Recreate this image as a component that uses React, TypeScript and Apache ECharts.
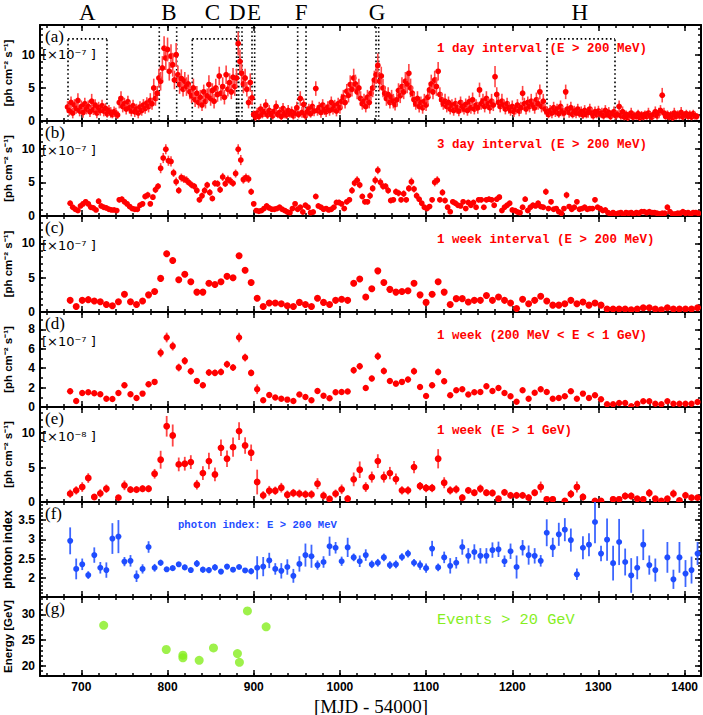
import React, { useEffect, useRef } from "react";
import * as echarts from "echarts";

const X_MIN = 652;
const X_MAX = 1419;

// (a) 1-day binned flux (E > 200 MeV), read every 2nd day, units 1e-7
const A_START = 684, A_STEP = 2;
const aFlux = [
  2.1,1.6,2.8,1.2,2.4,1.9,3.1,1.5,2.2,1.3, 2.6,1.8,2.2,1.4,3.0,1.7,2.4,1.2,2.0,1.6,
  2.3,1.5,1.9,1.1,1.6,1.3,1.0,1.4,1.2,0.9, 2.8,3.4,2.2,2.6,1.8,2.9,2.0,1.5,2.3,1.4,
  1.8,1.2,2.1,1.6,2.4,1.9,2.7,2.2,3.1,2.6, 5.0,3.4,4.2,6.5,6.0,8.0,11.0,9.5,10.8,7.5,
  9.8,8.5,6.2,10.0,7.0,5.5,6.4,4.8,6.0,5.2, 5.6,4.4,3.8,5.0,3.2,4.2,2.8,3.6,2.4,4.4,
  3.0,3.8,5.5,3.4,4.6,3.0,5.0,4.0,6.8,4.2, 5.2,3.6,7.0,4.8,5.8,4.4,6.6,5.2,6.5,11.7,
  9.0,7.2,5.6,6.5,4.8,2.8,5.8,3.5,1.0,0.6, 1.2,0.7,1.8,1.0,1.4,2.4,0.9,1.6,1.1,0.8,
  1.5,2.2,1.0,1.3,0.7,1.9,1.2,0.9,1.6,1.1, 1.4,0.8,1.2,2.0,1.0,3.4,1.3,2.5,0.8,1.4,
  1.8,1.1,2.2,1.5,4.9,1.6,2.0,1.3,2.4,1.7, 1.4,2.1,1.6,2.8,1.8,2.3,1.5,2.6,2.0,3.0,
  3.6,2.8,4.5,3.9,5.5,4.8,6.5,5.6,4.4,5.0, 3.4,2.6,3.0,2.2,3.6,2.8,4.2,5.0,6.2,7.0,
  8.4,6.0,6.8,5.0,4.2,3.4,4.0,2.8,3.6,3.0, 2.5,3.2,4.6,3.8,5.2,4.4,6.0,5.6,7.2,5.0,
  4.2,3.2,2.6,3.4,2.2,2.8,2.0,3.0,2.4,3.6, 4.7,5.6,4.4,6.2,5.2,7.5,4.0,3.2,2.6,3.0,
  2.2,2.8,1.8,2.4,1.6,2.6,2.0,1.5,2.8,2.2, 1.8,2.5,1.6,2.9,2.0,3.2,1.8,2.4,2.0,4.7,
  2.6,3.0,2.2,3.4,2.6,2.0,3.0,2.4,6.7,4.0, 2.8,2.2,3.0,2.4,1.8,2.6,2.0,1.6,2.2,1.4,
  1.8,2.4,1.5,2.0,4.2,2.6,1.8,2.8,2.2,3.0, 2.4,2.0,3.2,2.6,4.4,2.2,3.0,1.8,1.4,1.0,
  1.6,1.2,2.0,1.4,1.8,1.1,2.2,1.5,1.2,4.4, 1.8,1.3,2.0,1.0,1.5,1.2,1.8,1.1,1.4,0.9,
  1.6,1.0,1.3,1.8,1.2,0.8,1.4,1.0,1.5,1.1, 1.2,0.8,1.6,1.0,1.3,0.7,1.1,1.4,0.8,1.0,
  2.2,0.8,1.4,0.6,1.0,0.5,0.9,1.2,0.6,0.8, 0.7,1.1,0.5,0.9,0.6,1.0,0.7,1.2,0.8,0.6,
  1.0,1.4,0.8,1.2,1.6,3.9,1.2,0.7,1.0,0.6, 0.9,0.5,1.2,0.7,1.0,0.8,1.3,0.6,0.9,1.1,
  0.7,1.0,0.6,1.1,0.8,0.7,
];
const aErr = [
  .9,.8,.9,.8,.9,.8,1.1,.8,.9,.8, .9,.8,.9,.8,1.1,.8,.9,.8,.9,.8,
  .9,.8,.8,.6,.8,.8,.6,.8,.8,.6, .9,1.1,.9,.9,.8,.9,.9,.8,.9,.8,
  .8,.8,.9,.8,.9,.8,.9,.9,1.1,.9, 1.4,1.1,1.1,1.4,1.4,1.8,1.8,1.8,1.8,1.4,
  1.8,1.8,1.4,1.8,1.4,1.4,1.4,1.1,1.4,1.4, 1.4,1.1,1.1,1.4,1.1,1.1,.9,1.1,.9,1.1,
  1.1,1.1,1.4,1.1,1.1,1.1,1.4,1.1,1.4,1.1, 1.4,1.1,1.4,1.1,1.4,1.1,1.4,1.4,1.4,1.8,
  1.8,1.4,1.4,1.4,1.1,.9,1.4,1.1,.6,.6, .8,.6,.8,.6,.8,.9,.6,.8,.6,.6,
  .8,.9,.6,.8,.6,.8,.8,.6,.8,.6, .8,.6,.8,.9,.6,1.1,.8,.9,.6,.8,
  .8,.6,.9,.8,1.1,.8,.9,.8,.9,.8, .8,.9,.8,.9,.8,.9,.8,.9,.9,1.1,
  1.1,.9,1.1,1.1,1.4,1.1,1.4,1.4,1.1,1.4, 1.1,.9,1.1,.9,1.1,.9,1.1,1.4,1.4,1.4,
  1.8,1.4,1.4,1.4,1.1,1.1,1.1,.9,1.1,1.1, .9,1.1,1.1,1.1,1.4,1.1,1.4,1.4,1.4,1.4,
  1.1,1.1,.9,1.1,.9,.9,.9,1.1,.9,1.1, 1.1,1.4,1.1,1.4,1.4,1.4,1.1,1.1,.9,1.1,
  .9,.9,.8,.9,.8,.9,.9,.8,.9,.9, .8,.9,.8,.9,.9,1.1,.8,.9,.9,1.1,
  .9,1.1,.9,1.1,.9,.9,1.1,.9,1.6,1.1, .9,.9,1.1,.9,.8,.9,.9,.8,.9,.8,
  .8,.9,.8,.9,1.1,.9,.8,.9,.9,1.1, .9,.9,1.1,.9,1.1,.9,1.1,.8,.8,.6,
  .8,.8,.9,.8,.8,.6,.9,.8,.8,1.1, .8,.8,.9,.6,.8,.8,.8,.6,.8,.6,
  .8,.6,.8,.8,.8,.6,.8,.6,.8,.6, .8,.6,.8,.6,.8,.6,.6,.8,.6,.6,
  .9,.6,.8,.5,.6,.5,.6,.8,.5,.6, .5,.6,.5,.6,.5,.6,.5,.8,.6,.5,
  .6,.8,.6,.8,.8,1.1,.8,.5,.6,.5, .6,.5,.8,.5,.6,.6,.8,.5,.6,.6,
  .5,.6,.5,.6,.6,.5,
];

// (b) 3-day binned flux
const B_START = 687, B_STEP = 3;
const bFlux = [
  1.9,1.3,1.0,0.8,1.5,1.8,2.1,1.8,1.3,1.2,
  0.9,2.2,1.5,1.3,1.2,1.0,0.9,0.9,0.8,2.4,2.5,2.1,1.8,1.4,1.1, 1.0,
  1.0,1.6,1.8,2.9,3.1,1.8,2.8,3.9,4.4,7.1,8.6,9.9,8.2,8.1,6.4,5.1,3.8,5.7,5.5,5.3,4.95,4.6,4.4,3.8,2.4,3.0,
  3.8,4.6,3.5,2.6,4.85,4.8,3.9,5.8,4.8,5.4,5.2,4.85,6.3,9.9,8.3,5.4,5.7,5.5,3.6,1.8,0.8,0.7,0.8,1.1,1.5,1.2,1.0,1.0,1.1,1.3,1.0,0.8,0.6,0.5,1.1,1.8,
  1.0,
  1.3,0.6,1.6,1.3,0.5,0.6,2.9,1.5,1.3,1.0,1.1,0.9,1.0,1.3,2.0,2.0,1.8,1.1,2.1,2.4,3.8,4.9,5.3,
  4.6,2.9,2.1,2.1,3.0,4.1,5.3,6.8,5.0,4.4, 4.4,3.8,2.3,2.4,3.6,3.4,2.4,3.3,2.4,4.1,
  5.1,4.0,3.0,2.5,1.9,1.3,1.1,1.4,2.4,5.0, 5.3,2.4,3.5,2.3,1.3,0.64,2.1,1.9,1.6,1.5,
  2.1,1.1,2.0,1.6,2.0,1.3,2.4,2.4,1.3,2.4, 2.5,2.4,1.6,2.5,2.8,0.8,1.3,1.6,1.9,0.9,
  0.8,0.6,0.5,1.3,2.5,0.8,1.3,1.6,1.5,1.9, 1.4,1.3,3.6,1.1,2.1,1.0,1.1,0.64,
  0.4,1.1,3.1,1.4,1.0,1.3,2.1,1.0,1.1,1.3, 1.0,1.1,1.1,2.4,1.3,1.1,0.8,0.9,0.5,0.3,
  0.5,0.3,0.4,0.5,0.15,0.5,0.4,0.5,0.3, 0.5,0.4,0.64,0.64,0.5,0.64,0.5,0.5,0.4,0.3,
  0.4,0.4,1.3,0.64,0.3,0.3,0.4,0.4,0.64,0.4,0.5,0.3,0.5,0.5,0.4,
];
const bErr = [
  .35,.35,.3,.3,.35,.35,.4,.35,.35,.35,
  .3,.4,.35,.35,.35,.3,.3,.3,.3,.4,.4,.4,.35,.35,.3, .3,
  .3,.35,.35,.4,.5,.35,.4,.5,.5,.75,.75,.75,.75,.75,.6,.6,.5,.6,.6,.6,.5,.5,.5,.5,.4,.5,
  .5,.5,.5,.4,.5,.5,.5,.6,.5,.6,.6,.5,.6,.75,.75,.6,.6,.6,.5,.35,.3,.3,.3,.3,.35,.35,.3,.3,.3,.35,.3,.3,.3,.3,.3,.35,
  .3,
  .35,.3,.35,.35,.3,.3,.4,.35,.35,.3,.3,.3,.3,.35,.4,.4,.35,.3,.4,.4,.5,.5,.6,
  .5,.4,.4,.4,.5,.5,.6,.6,.6,.5, .5,.5,.4,.4,.5,.5,.4,.5,.4,.5,
  .6,.5,.5,.4,.35,.35,.3,.35,.4,.6, .6,.4,.5,.4,.35,.3,.4,.35,.35,.35,
  .4,.3,.4,.35,.4,.35,.4,.4,.35,.4, .4,.4,.35,.4,.4,.3,.35,.35,.35,.3,
  .3,.3,.3,.35,.4,.3,.35,.35,.35,.35, .35,.35,.5,.3,.4,.3,.3,.3,
  .3,.3,.5,.35,.3,.35,.4,.3,.3,.35, .3,.3,.3,.4,.35,.3,.3,.3,.25,.25,
  .25,.25,.25,.25,.25,.25,.25,.25,.25, .25,.25,.25,.25,.25,.25,.25,.25,.25,.25,
  .25,.25,.35,.25,.25,.25,.25,.25,.25,.25,.25,.25,.25,.25,.25,
];

// weekly bins
const W_START = 687, W_STEP = 7;
const cFlux = [
  1.7,0.8,1.7,1.8,1.6,1.5,1.1,0.9,1.5,2.6,1.5,1.1,1.6,2.5,3.0,4.9,8.5,7.5,4.7,5.5,
  4.4,2.9,2.9,4.2,4.0,4.4,5.2,5.0,8.2,6.1,4.3,2.0,0.8,1.3,1.3,1.2,0.9,0.8,1.4,1.1,
  0.8,2.0,1.4,1.1,1.7,1.85,1.7,4.2,4.8,
  2.2,3.4,6.0,4.3,3.3,2.9,3.0,3.1,4.2,2.5,1.4,2.6,4.4,2.9,1.1,1.95,1.95,1.46,1.7,1.7,
  2.4,1.7,2.2,1.7,1.3,0.5,1.85,1.2,1.7,2.3,1.6,1.0,1.0,1.2,1.7,1.2,1.46,1.0,1.3,1.0,
  0.44,0.44,0.44,0.44,0.34,0.44,0.63,0.63,0.44,0.34,0.63,0.44,0.44,0.44,0.44,0.63,
];
const cErr = [
  .25,.25,.25,.25,.25,.25,.25,.25,.25,.3,.25,.25,.25,.3,.3,.35,.45,.45,.35,.35,
  .35,.3,.3,.35,.35,.35,.35,.35,.45,.4,.35,.25,.2,.25,.25,.25,.2,.2,.25,.25,
  .2,.25,.25,.25,.25,.25,.25,.35,.35,
  .3,.3,.4,.35,.3,.3,.3,.3,.35,.3,.25,.3,.35,.3,.25,.25,.25,.25,.25,.25,
  .3,.25,.3,.25,.25,.2,.25,.25,.25,.3,.25,.2,.2,.25,.25,.25,.25,.2,.25,.2,
  .15,.15,.15,.15,.15,.15,.15,.15,.15,.15,.15,.15,.15,.15,.15,.15,
];
const dFlux = [
  1.62,0.62,1.45,1.52,1.41,1.31,0.86,0.83,1.45,2.24,1.31,0.93,1.38,2.34,2.59,5.59,7.17,6.28,4.07,4.76,
  3.69,2.69,2.24,3.55,3.52,3.62,4.41,4.07,7.17,5.1,3.52,1.83,0.69,1.24,0.97,0.86,0.76,0.62,1.28,1.03,
  0.69,1.66,1.17,0.9,1.52,1.55,1.59,3.79,4.2,
  1.97,2.93,5.24,3.72,2.69,2.41,2.59,2.83,3.69,2.07,1.14,2.24,3.62,2.66,1.21,1.72,1.83,1.28,1.52,1.55,
  2.14,1.66,1.97,1.45,1.1,0.55,1.72,0.86,1.48,1.83,1.55,0.86,0.93,1.1,1.62,0.86,1.38,0.93,1.21,0.79,
  0.28,0.28,0.41,0.41,0.07,0.34,0.59,0.59,0.34,0.28,0.59,0.34,0.34,0.34,0.34,0.52,
];
const dErr = [
  .3,.25,.25,.25,.25,.25,.2,.2,.3,.3,.25,.25,.25,.3,.3,.45,.5,.45,.4,.4,
  .35,.3,.3,.35,.35,.35,.35,.35,.5,.4,.35,.5,.2,.25,.2,.2,.2,.2,.25,.25,
  .2,.25,.25,.2,.25,.25,.25,.35,.35,
  .3,.3,.4,.35,.3,.3,.3,.3,.35,.3,.25,.3,.35,.3,.25,.25,.25,.25,.25,.25,
  .3,.25,.3,.25,.25,.2,.25,.2,.25,.3,.25,.2,.2,.25,.25,.2,.25,.2,.25,.2,
  .15,.15,.15,.15,.15,.15,.15,.15,.15,.15,.15,.15,.15,.15,.15,.15,
];
// (e) weekly, E > 1 GeV, units 1e-8
const eFlux = [
  1.21,1.69,2.17,3.48,0.72,1.26,1.93,null,0.63,2.42,1.79,1.79,1.93,1.93,4.1,6.14,11.0,9.66,5.46,5.56,
  5.8,2.51,4.2,5.94,4.0,7.87,6.28,7.97,10.3,8.2,7.15,2.9,0.97,1.64,1.64,2.08,1.06,1.3,1.21,1.1,
  1.1,2.66,0.92,0.43,1.21,1.84,0.48,3.29,4.69,
  2.17,3.62,5.94,3.62,4.2,3.33,1.69,1.69,5.07,2.32,2.03,2.03,6.28,2.8,1.69,1.84,0.63,1.69,1.35,1.93,
  1.35,1.3,0.48,1.4,0.97,0.97,0.97,0.63,1.35,2.17,0.39,0.39,null,0.14,1.16,2.17,0.72,null,0.14,0.14,
  null,0.39,0.39,0.87,0.87,0.48,0.39,1.3,0.48,0.14,0.48,1.21,0.24,0.97,0.63,0.63,
];
const eErr = [
  .6,.6,.7,.7,.4,.6,.6,0,.4,.7,.5,.5,.5,.5,.7,1.3,1.5,1.6,1.0,1.0,
  1.0,.7,1.0,1.2,1.0,1.2,1.2,1.4,1.3,1.2,1.2,1.8,.6,.7,.6,.7,.6,.6,.6,.6,
  .6,.8,.6,.5,.6,.7,.5,1.0,1.2,
  .7,.8,1.0,.8,.9,.8,.6,.6,.9,.6,.6,.6,1.4,.8,.6,.6,.5,.5,.5,.6,
  .5,.5,.4,.5,.5,.5,.5,.5,.5,.8,.4,.4,0,.4,.6,.8,.5,0,.4,.4,
  0,.4,.4,.5,.5,.4,.4,.6,.4,.3,.4,.6,.3,.5,.4,.4,
];
// (f) weekly photon index
const fIndex = [
  2.96,2.23,2.35,2.07,2.59,2.26,2.2,3.02,3.07,2.42,2.44,2.04,2.23,2.8,2.26,2.39,2.22,2.25,2.35,2.27,
  2.2,2.37,2.21,2.2,2.27,2.16,2.29,2.21,2.28,2.19,2.17,2.26,2.29,2.45,2.23,2.18,2.28,2.05,2.36,2.59,
  2.56,2.33,2.41,2.82,2.78,2.43,2.79,2.53,2.43,
  2.59,2.35,2.39,2.53,2.33,2.35,2.54,2.63,2.39,2.33,2.25,2.76,2.27,2.53,2.31,2.39,2.8,2.57,2.67,2.57,
  2.57,2.72,2.74,2.43,2.69,2.28,2.78,2.59,2.57,2.44,3.17,2.79,3.13,3.25,2.98,2.09,2.78,2.86,3.45,2.63,
  2.99,2.38,2.93,2.41,2.06,2.26,2.86,2.33,2.2,null,2.53,1.96,2.53,2.11,2.2,2.63,
];
const fErr = [
  .35,.27,.15,.1,.2,.15,.2,.4,.43,.12,.15,.15,.12,.15,.1,.08,.06,.05,.06,.07,
  .06,.09,.08,.08,.08,.06,.07,.06,.06,.06,.08,.3,.25,.2,.15,.2,.2,.18,.2,.3,
  .3,.12,.15,.25,.15,.12,.25,.1,.15,
  .15,.1,.1,.1,.1,.1,.1,.1,.1,.12,.12,.2,.1,.15,.2,.15,.2,.2,.2,.2,
  .2,.2,.2,.15,.2,.3,.2,.25,.2,.15,.35,.25,.3,.3,.3,.15,.3,.3,.55,.2,
  .55,.45,.6,.35,.45,.3,.4,.25,.3,0,.4,.25,.4,.35,.35,.3,
];
// (g) individual events > 20 GeV
const gDays = [725.9, 798.5, 817.8, 817.8, 836.7, 853.3, 881.1, 883.4, 892.7, 914.4];
const gEnergy = [27.9, 23.2, 22.1, 21.6, 21.1, 23.5, 22.4, 20.7, 30.7, 27.6];

// flare periods marked in panel (a)
const regionNames = ["A", "B", "C", "D", "E", "F", "G", "H"];
const regionCenters = [707, 801.7, 852, 881, 900.3, 954.9, 1043, 1278.3];
const regionFullLines = [790.4, 810.6, 880.2, 882.6, 886.4, 898, 901.1, 951, 960.7, 1041.9, 1045];
const regionBoxes = [[684.5, 729.7], [828.7, 880.2], [1240.3, 1319.2]];
const BOX_TOP = 12.4;

const xMajor = [700, 800, 900, 1000, 1100, 1200, 1300, 1400];

const SANS = '"Liberation Sans", Arial, sans-serif';
const SERIF = '"Liberation Serif", "Times New Roman", serif';
const MONO = '"Liberation Mono", "Courier New", monospace';
const DEJAVU = '"DejaVu Sans", sans-serif';
const RED = "#ff0000";
const RED_BAR = "#ff4545";
const BLUE = "#1f4dff";
const BLUE_BAR = "#3d66ff";
const GREEN = "#86ee1e";

function range(a: number, b: number, s: number) {
  const out: number[] = [];
  for (let v = a; v <= b + 1e-9; v += s) out.push(Math.round(v * 1000) / 1000);
  return out;
}

const panels = [
  { top: 25, height: 96, min: 0, max: 14.5, major: [0, 5, 10], minor: range(1, 14, 1) },
  { top: 121, height: 95, min: 0, max: 14.1, major: [0, 5, 10], minor: range(1, 14, 1) },
  { top: 216, height: 96, min: 0, max: 14, major: [0, 5, 10], minor: range(1, 13, 1) },
  { top: 312, height: 95, min: 0, max: 9.8, major: [0, 2, 4, 6, 8], minor: range(1, 9, 1) },
  { top: 407, height: 95, min: 0, max: 13.8, major: [0, 5, 10], minor: range(1, 13, 1) },
  { top: 502, height: 95, min: 1.5, max: 3.97, major: [2, 2.5, 3, 3.5], minor: range(1.6, 3.9, 0.1) },
  { top: 597, height: 79, min: 18.05, max: 33.4, major: [20, 25, 30], minor: range(19, 33, 1) },
];

function pts(start: number, step: number, vals: (number | null)[], errs: number[]) {
  const out: number[][] = [];
  vals.forEach((v, i) => {
    if (v == null) return;
    out.push([start + i * step, v, errs[i] || 0]);
  });
  return out;
}

function errSeries(gi: number, data: number[][], color: string, bar: string, r: number, bw: number) {
  return {
    type: "custom",
    xAxisIndex: gi * 4,
    yAxisIndex: gi * 4,
    clip: true,
    silent: true,
    data,
    encode: { x: 0, y: 1 },
    renderItem: (_p: any, api: any) => {
      const x = api.value(0), y = api.value(1), e = api.value(2);
      const c = api.coord([x, y]);
      const lo = api.coord([x, y - e]);
      const hi = api.coord([x, y + e]);
      return {
        type: "group",
        children: [
          { type: "line", shape: { x1: c[0], y1: lo[1], x2: c[0], y2: hi[1] }, style: { stroke: bar, lineWidth: bw } },
          { type: "circle", shape: { cx: c[0], cy: c[1], r }, style: { fill: color } },
        ],
      };
    },
  };
}

function txt(text: string, x: number, y: number, font: string, fill: string, align = "left", rotation = 0) {
  return {
    type: "text",
    x, y, rotation,
    silent: true,
    style: { text, font, fill, textAlign: align, textVerticalAlign: "middle", align, verticalAlign: "middle" },
  };
}

function buildOption() {
  const grid: any[] = [];
  const xAxis: any[] = [];
  const yAxis: any[] = [];
  const axisLine = { show: true, onZero: false, lineStyle: { color: "#000", width: 2 } };
  const noLine = { show: false, onZero: false };
  const tickStyle = { color: "#000", width: 1.5 };
  const xMinor = range(660, 1400, 20);
  const plain = (v: number) => String(v);

  panels.forEach((p, i) => {
    const last = i === panels.length - 1;
    grid.push({ left: 40, top: p.top, width: 661, height: p.height, show: false });
    const xb = { type: "value", gridIndex: i, min: X_MIN, max: X_MAX, splitLine: { show: false } };
    xAxis.push({
      ...xb, position: "bottom", axisLine,
      axisTick: { show: true, inside: true, length: 6, customValues: xMajor, lineStyle: tickStyle },
      axisLabel: last
        ? { show: true, customValues: xMajor, margin: 5, color: "#000", fontFamily: SANS, fontWeight: "bold", fontSize: 12, formatter: plain }
        : { show: false },
    });
    xAxis.push({
      ...xb, position: "top", axisLine,
      axisTick: { show: true, inside: true, length: 6, customValues: xMajor, lineStyle: tickStyle },
      axisLabel: i === 0
        ? {
            show: true, customValues: regionCenters, margin: 1, color: "#000", fontFamily: SERIF, fontSize: 23,
            formatter: (v: number) => {
              let best = 0;
              regionCenters.forEach((c, k) => { if (Math.abs(c - v) < Math.abs(regionCenters[best] - v)) best = k; });
              return regionNames[best];
            },
          }
        : { show: false },
    });
    xAxis.push({ ...xb, position: "bottom", axisLine: noLine, axisTick: { show: true, inside: true, length: 3, customValues: xMinor, lineStyle: tickStyle }, axisLabel: { show: false } });
    xAxis.push({ ...xb, position: "top", axisLine: noLine, axisTick: { show: true, inside: true, length: 3, customValues: xMinor, lineStyle: tickStyle }, axisLabel: { show: false } });

    const yb = { type: "value", gridIndex: i, min: p.min, max: p.max, splitLine: { show: false } };
    yAxis.push({
      ...yb, position: "left", axisLine,
      axisTick: { show: true, inside: true, length: 6, customValues: p.major, lineStyle: tickStyle },
      axisLabel: { show: true, customValues: p.major, margin: 5, color: "#000", fontFamily: SANS, fontWeight: "bold", fontSize: 12, formatter: plain },
    });
    yAxis.push({
      ...yb, position: "right", axisLine,
      axisTick: { show: true, inside: true, length: 6, customValues: p.major, lineStyle: tickStyle },
      axisLabel: { show: false },
    });
    yAxis.push({ ...yb, position: "left", axisLine: noLine, axisTick: { show: true, inside: true, length: 3, customValues: p.minor, lineStyle: tickStyle }, axisLabel: { show: false } });
    yAxis.push({ ...yb, position: "right", axisLine: noLine, axisTick: { show: true, inside: true, length: 3, customValues: p.minor, lineStyle: tickStyle }, axisLabel: { show: false } });
  });

  // dotted region markers in panel (a)
  const segs: number[][] = [];
  regionFullLines.forEach((x) => segs.push([x, 0, x, panels[0].max]));
  regionBoxes.forEach(([x1, x2]) => {
    segs.push([x1, 0, x1, BOX_TOP]);
    segs.push([x2, 0, x2, BOX_TOP]);
    segs.push([x1, BOX_TOP, x2, BOX_TOP]);
  });

  const series: any[] = [
    {
      type: "custom",
      xAxisIndex: 0, yAxisIndex: 0, silent: true, z: 1,
      data: segs,
      encode: { x: [0, 2], y: [1, 3] },
      renderItem: (_p: any, api: any) => {
        const a = api.coord([api.value(0), api.value(1)]);
        const b = api.coord([api.value(2), api.value(3)]);
        return {
          type: "line",
          shape: { x1: a[0], y1: a[1], x2: b[0], y2: b[1] },
          style: { stroke: "#000", lineWidth: 1.6, lineDash: [1.6, 2.6] },
        };
      },
    },
    errSeries(0, pts(A_START, A_STEP, aFlux, aErr), RED, RED_BAR, 2.9, 1.6),
    errSeries(1, pts(B_START, B_STEP, bFlux, bErr), RED, RED_BAR, 2.9, 1.6),
    errSeries(2, pts(W_START, W_STEP, cFlux, cErr), RED, RED_BAR, 3.5, 1.8),
    errSeries(3, pts(W_START, W_STEP, dFlux, dErr), RED, RED_BAR, 3.2, 1.8),
    errSeries(4, pts(W_START, W_STEP, eFlux, eErr), RED, RED_BAR, 3.4, 1.8),
    errSeries(5, pts(W_START, W_STEP, fIndex, fErr), BLUE, BLUE_BAR, 3.0, 1.8),
    {
      type: "scatter",
      xAxisIndex: 24, yAxisIndex: 24, silent: true,
      symbol: "circle", symbolSize: 9,
      itemStyle: { color: GREEN },
      data: gDays.map((d, i) => [d, gEnergy[i]]),
    },
  ];

  const letters = ["(a)", "(b)", "(c)", "(d)", "(e)", "(f)", "(g)"];
  const captions = [
    "1 day interval (E > 200 MeV)",
    "3 day interval (E > 200 MeV)",
    "1 week interval (E > 200 MeV)",
    "1 week (200 MeV < E < 1 GeV)",
    "1 week (E > 1 GeV)",
  ];
  const graphic: any[] = [];
  panels.forEach((p, i) => {
    graphic.push(txt(letters[i], 45, p.top + 11, `17px ${SERIF}`, "#000"));
    if (i < 5) {
      graphic.push(txt(i === 4 ? "[×10⁻⁸ ]" : "[×10⁻⁷ ]", 42, p.top + 29, `13px ${DEJAVU}`, "#000"));
      graphic.push(txt(captions[i], 437, p.top + 24, `bold 12.5px ${MONO}`, RED));
      graphic.push(txt("[ph cm⁻² s⁻¹]", 8, p.top + p.height / 2, `bold 11.5px ${SANS}`, "#000", "center", Math.PI / 2));
    }
  });
  graphic.push(txt("photon index: E > 200 MeV", 178, 525, `bold 10.6px ${MONO}`, BLUE));
  graphic.push(txt("photon index", 8, panels[5].top + panels[5].height / 2, `bold 12.5px ${SANS}`, "#000", "center", Math.PI / 2));
  graphic.push(txt("Events > 20 GeV", 437, 620, `15.3px ${MONO}`, GREEN));
  graphic.push(txt("Energy [GeV]", 8, panels[6].top + panels[6].height / 2, `bold 11.5px ${SANS}`, "#000", "center", Math.PI / 2));
  graphic.push(txt("[MJD - 54000]", 371, 706, `19px ${SERIF}`, "#000", "center"));

  return { animation: false, backgroundColor: "#fff", grid, xAxis, yAxis, series, graphic };
}

export default function App() {
  const ref = useRef<HTMLDivElement>(null);
  useEffect(() => {
    if (!ref.current) return;
    const chart = echarts.init(ref.current, null, { renderer: "svg" });
    chart.setOption(buildOption() as any);
    return () => chart.dispose();
  }, []);
  return (
    <div
      ref={ref}
      style={{ position: "absolute", left: 0, top: 0, width: 703, height: 715, background: "#fff" }}
    />
  );
}
